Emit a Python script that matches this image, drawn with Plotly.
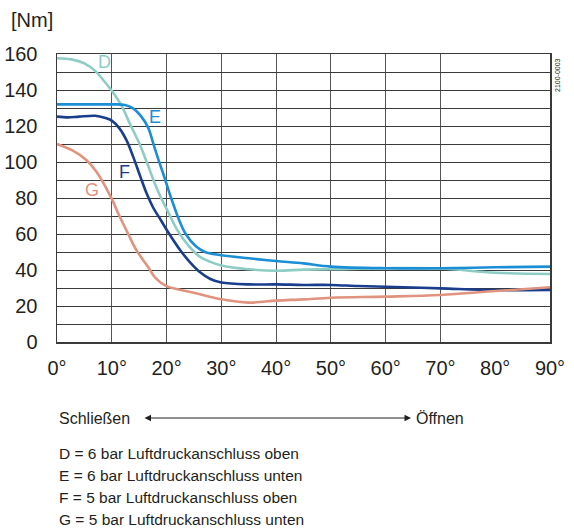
import plotly.graph_objects as go

# ---- data ----
x_D = [0, 2.6, 5, 7, 8.7, 10, 11.7, 13.5, 15, 16.5, 17.8, 19, 20, 22, 24, 26, 28, 30, 35, 40, 45, 50, 60, 70, 80, 90]
y_D = [157.6, 157, 154.8, 150.5, 144.6, 139.6, 131.7, 120, 110.5, 99, 88.5, 80, 74, 62, 53.5, 47.5, 44.5, 42.5, 40.4, 39.6, 40.2, 40.4, 41, 40.8, 38.5, 37.8]

x_E = [0, 6, 10, 12.4, 13.9, 15.4, 16.7, 17.5, 18.5, 19.5, 20.4, 21.3, 22.2, 23.5, 25.4, 27, 29.7, 35, 40, 45, 50, 60, 70, 80, 90]
y_E = [132, 132, 132, 131.7, 129.8, 125.2, 118.7, 111, 101.5, 92.5, 84, 76, 68.5, 60, 53, 50, 48.3, 46.5, 45, 43.7, 41.9, 41, 41, 41.5, 41.9]

x_F = [0, 2, 4, 7, 8.7, 10, 11.4, 12.7, 13.9, 15.2, 16.3, 17.5, 19, 20.3, 22.5, 24.5, 26, 28, 30, 35, 40, 45, 50, 55, 60, 70, 80, 90]
y_F = [125.2, 124.8, 125.2, 125.7, 124.6, 123, 118.7, 112, 103, 92, 83, 75, 67.5, 61, 51, 43.5, 39, 35, 33.1, 32, 32, 31.7, 31.7, 31.1, 30.7, 29.8, 28.9, 28.9]

x_G = [0, 2.9, 5.4, 7.2, 9, 10, 11.4, 13, 14.5, 16.6, 18, 20, 22, 25, 30, 35, 40, 45, 50, 60, 70, 80, 90]
y_G = [110, 106.3, 101, 94.6, 85.4, 79.5, 70, 60, 51, 41.8, 35.5, 31, 29.3, 27.4, 23.7, 21.9, 23, 23.7, 24.6, 25.2, 26.1, 28.3, 30.4]

series_names = ["D", "E", "F", "G"]
series_colors = ["#8ecdc4", "#1b8ed6", "#1a3e8c", "#e0937e"]
label_x = [8.6, 17.8, 12.4, 6.3]
label_y = [155.5, 125, 94.5, 84.5]

x_ticks = [0, 10, 20, 30, 40, 50, 60, 70, 80, 90]
x_ticktext = [f"{v}°" for v in x_ticks]
x_gridvals = [0, 10, 20, 30, 40, 50, 60, 70, 90]
y_gridvals = list(range(0, 161, 10))
y_ticktext = [str(v) if v % 20 == 0 else "" for v in y_gridvals]

legend_lines = [
    "D = 6 bar Luftdruckanschluss oben",
    "E = 6 bar Luftdruckanschluss unten",
    "F = 5 bar Luftdruckanschluss oben",
    "G = 5 bar Luftdruckanschluss unten",
]

# ---- layout geometry (pixels) ----
W, H = 574, 529
L, R, T, B = 57, 550, 54, 342


def px(xp):
    return (xp - L) / (R - L)


def py(yp):
    return (B - yp) / (B - T)


FONT = "Liberation Sans, Arial, sans-serif"
TXT = "#231f20"
GRID = "#3a3a3a"

fig = go.Figure()
for name, xs, ys, col in zip(series_names, [x_D, x_E, x_F, x_G], [y_D, y_E, y_F, y_G], series_colors):
    fig.add_trace(go.Scatter(x=xs, y=ys, mode="lines", name=name,
                             line=dict(color=col, width=2.6, shape="spline", smoothing=1.0),
                             showlegend=False, hoverinfo="skip"))

# invisible trace on secondary x-axis that carries the tick labels
fig.add_trace(go.Scatter(x=[0, 90], y=[0, 0], xaxis="x2", mode="markers",
                         marker=dict(opacity=0), showlegend=False, hoverinfo="skip"))

annotations = []
for name, lx, ly, col in zip(series_names, label_x, label_y, series_colors):
    annotations.append(dict(x=lx, y=ly, xref="x", yref="y", text=name, showarrow=False,
                            font=dict(family=FONT, size=18, color=col)))

annotations.append(dict(x=px(9), y=py(20), xref="paper", yref="paper", text="[Nm]",
                        showarrow=False, xanchor="left", yanchor="middle",
                        font=dict(family=FONT, size=20, color=TXT)))
annotations.append(dict(x=px(558), y=py(75), xref="paper", yref="paper", text="2100-0003",
                        showarrow=False, textangle=-90, xanchor="center", yanchor="middle",
                        font=dict(family=FONT, size=7, color=TXT)))
annotations.append(dict(x=px(57), y=py(418), xref="paper", yref="paper", text="Schließen",
                        showarrow=False, xanchor="left", yanchor="middle",
                        font=dict(family=FONT, size=16, color=TXT)))
annotations.append(dict(x=px(414), y=py(418), xref="paper", yref="paper", text="Öffnen",
                        showarrow=False, xanchor="left", yanchor="middle",
                        font=dict(family=FONT, size=16, color=TXT)))
annotations.append(dict(x=px(411), y=py(418), xref="paper", yref="paper", text="",
                        showarrow=True, ax=143 - 411, ay=0, axref="pixel", ayref="pixel",
                        arrowhead=2, startarrowhead=2, arrowside="end+start",
                        arrowsize=1.3, startarrowsize=1.3, arrowwidth=1, arrowcolor=TXT))
for i, t in enumerate(legend_lines):
    annotations.append(dict(x=px(57), y=py(453 + 22.3 * i), xref="paper", yref="paper", text=t,
                            showarrow=False, xanchor="left", yanchor="middle",
                            font=dict(family=FONT, size=15.5, color=TXT)))

fig.update_layout(
    width=W, height=H,
    margin=dict(l=L, r=W - R, t=T, b=H - B, pad=0),
    paper_bgcolor="white", plot_bgcolor="white",
    showlegend=False,
    xaxis=dict(range=[0, 90], tickvals=x_gridvals, showticklabels=False, ticks="",
               showgrid=True, gridcolor="#555555", gridwidth=1, zeroline=False,
               showline=True, linecolor=GRID, linewidth=1.5, mirror=True, automargin=False),
    xaxis2=dict(range=[0, 90], overlaying="x", side="bottom", tickvals=x_ticks,
                ticktext=x_ticktext, showgrid=False, zeroline=False, showline=False,
                ticks="", ticklabelstandoff=12, automargin=False,
                tickfont=dict(family=FONT, size=20, color=TXT)),
    yaxis=dict(range=[0, 160], tickvals=y_gridvals, ticktext=y_ticktext,
               showgrid=True, gridcolor=GRID, gridwidth=1, zeroline=False,
               showline=True, linecolor=GRID, linewidth=1.5, mirror=True,
               ticks="", ticklabelstandoff=14, automargin=False,
               tickfont=dict(family=FONT, size=20, color=TXT)),
    annotations=annotations,
)

fig.write_html("out.html", config={"displayModeBar": False, "staticPlot": True})

# remove the browser's default page margin so the figure sits at the window origin
with open("out.html", "r", encoding="utf-8") as f:
    html = f.read()
html = html.replace("<body>", '<body style="margin:0;overflow:hidden">', 1)
with open("out.html", "w", encoding="utf-8") as f:
    f.write(html)
